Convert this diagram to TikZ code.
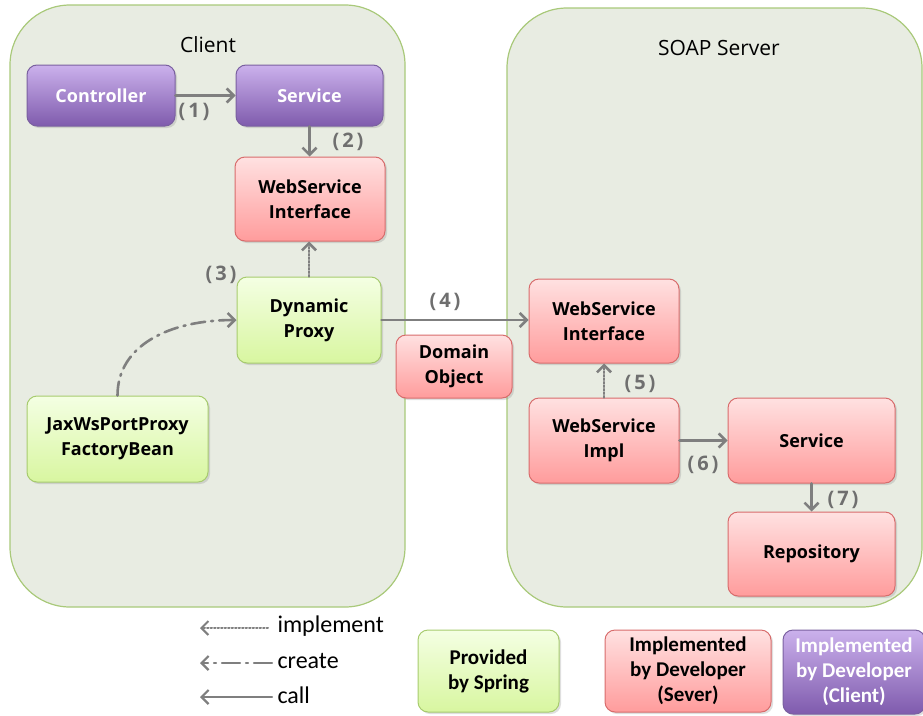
\documentclass[tikz,border=0pt]{standalone}
\usepackage{fontspec}
\setmainfont{Open Sans}
\newfontfamily\legfont{Carlito}
\usepackage{tikz}
\usetikzlibrary{arrows.meta,shadows}

\definecolor{contfill}{HTML}{E8ECE2}
\definecolor{contline}{HTML}{A9C97A}
\definecolor{arrowgray}{HTML}{7F7F7F}
\definecolor{labelgray}{HTML}{6F6F6F}
\definecolor{purpletop}{HTML}{CBB1EC}
\definecolor{purplebot}{HTML}{7F5BAD}
\definecolor{purpleline}{HTML}{7A60A0}
\definecolor{redtop}{HTML}{FFE1E1}
\definecolor{redbot}{HTML}{FF9C9C}
\definecolor{redline}{HTML}{D86C6C}
\definecolor{greentop}{HTML}{F4FFE3}
\definecolor{greenbot}{HTML}{D8F6A0}
\definecolor{greenline}{HTML}{A7CB6E}

\begin{document}
\begin{tikzpicture}[
  x=1pt,y=-1pt,
  line cap=round,
  line join=round,
  container/.style={draw=contline,fill=contfill,line width=1.2pt,rounded corners=60pt},
  box/.style={rounded corners=10pt,line width=1pt,align=center,inner sep=0pt,
    drop shadow={opacity=0.25,shadow xshift=2pt,shadow yshift=-2pt},
    font=\bfseries\fontsize{18}{25}\selectfont},
  purplebox/.style={box,draw=purpleline,top color=purpletop,bottom color=purplebot,text=white},
  redbox/.style={box,draw=redline,top color=redtop,bottom color=redbot},
  greenbox/.style={box,draw=greenline,top color=greentop,bottom color=greenbot},
  legbox/.style={font=\legfont\bfseries\fontsize{21}{25}\selectfont},
  call/.style={draw=arrowgray,line width=2.6pt,-{Straight Barb[length=7pt,width=14pt]}},
  implement/.style={call,dash pattern=on 1.5pt off 2pt},
  create/.style={call,dash pattern=on 14pt off 6pt on 2pt off 6pt},
  step label/.style={text=labelgray,font=\bfseries\fontsize{20}{22}\selectfont}
]
  \useasboundingbox (0,0) rectangle (923,715);

  % Containers
  \draw[container] (10,5) rectangle (405,607);
  \draw[container] (507,8) rectangle (922,607);
  \node[font=\fontsize{21}{24}\selectfont] (clienttitle) at (208,45) {Client};
  \node[font=\fontsize{21}{24}\selectfont] (servertitle) at (719,48) {SOAP Server};

  % Client side
  \node[purplebox,minimum width=148pt,minimum height=61pt] (ctrl) at (101,95.5) {Controller};
  \node[purplebox,minimum width=147pt,minimum height=61pt] (csvc) at (309.5,95.5) {Service};
  \node[redbox,minimum width=150pt,minimum height=84pt] (cwsi) at (310,199) {WebService\\Interface};
  \node[greenbox,minimum width=144pt,minimum height=86pt] (proxy) at (309,320) {Dynamic\\Proxy};
  \node[greenbox,minimum width=181pt,minimum height=86pt] (factory) at (117.5,439) {JaxWsPortProxy\\FactoryBean};

  % Between
  \node[redbox,minimum width=116pt,minimum height=63pt] (domain) at (454,366.5) {Domain\\Object};

  % Server side
  \node[redbox,minimum width=150pt,minimum height=84pt] (swsi) at (604,321) {WebService\\Interface};
  \node[redbox,minimum width=150pt,minimum height=85pt] (impl) at (604,440.5) {WebService\\Impl};
  \node[redbox,minimum width=167pt,minimum height=85pt] (ssvc) at (811.5,440.5) {Service};
  \node[redbox,minimum width=167pt,minimum height=84pt] (repo) at (811.5,554) {Repository};

  % Connectors
  \draw[call] (ctrl.east) -- (csvc.west);
  \draw[call] (csvc.south) -- (csvc.south |- cwsi.north);
  \draw[implement] (proxy.north) -- (proxy.north |- cwsi.south);
  \draw[call] (proxy.east) -- (proxy.east -| swsi.west);
  \draw[create] (factory.north) .. controls (117.5,345) and (170,320) .. (proxy.west);
  \draw[implement] (impl.north) -- (swsi.south);
  \draw[call] (impl.east) -- (ssvc.west);
  \draw[call] (ssvc.south) -- (repo.north);

  % Step numbers
  \node[step label] (n1) at (194,112) {(\hspace{3pt}1\hspace{3pt})};
  \node[step label] (n2) at (348,142) {(\hspace{3pt}2\hspace{3pt})};
  \node[step label] (n3) at (221,275) {(\hspace{3pt}3\hspace{3pt})};
  \node[step label] (n4) at (445,302) {(\hspace{3pt}4\hspace{3pt})};
  \node[step label] (n5) at (640,384) {(\hspace{3pt}5\hspace{3pt})};
  \node[step label] (n6) at (703,465) {(\hspace{3pt}6\hspace{3pt})};
  \node[step label] (n7) at (843,500) {(\hspace{3pt}7\hspace{3pt})};

  % Legend
  \coordinate (impfrom) at (268,628);
  \coordinate (impto) at (200,628);
  \coordinate (crefrom) at (272,663);
  \coordinate (creto) at (200,663);
  \coordinate (callfrom) at (272,697);
  \coordinate (callto) at (200,697);
  \draw[implement,line width=2pt] (impfrom) -- (impto);
  \draw[create,line width=2.2pt,dash pattern=on 18pt off 6pt on 2pt off 6pt] (crefrom) -- (creto);
  \draw[call,line width=2.2pt] (callfrom) -- (callto);
  \node[anchor=west,font=\legfont\fontsize{24}{26}\selectfont] (impl text) at (274,626) {implement};
  \node[anchor=west,font=\legfont\fontsize{24}{26}\selectfont] (create text) at (274,661) {create};
  \node[anchor=west,font=\legfont\fontsize{24}{26}\selectfont] (call text) at (274,695) {call};

  \node[greenbox,legbox,minimum width=141pt,minimum height=82pt] (legspring) at (488.5,671) {Provided\\by Spring};
  \node[redbox,legbox,minimum width=166pt,minimum height=82pt] (legserver) at (688,671) {Implemented\\by Developer\\(Sever)};
  \node[purplebox,legbox,minimum width=142pt,minimum height=84pt] (legclient) at (854,672) {Implemented\\by Developer\\(Client)};
\end{tikzpicture}
\end{document}
